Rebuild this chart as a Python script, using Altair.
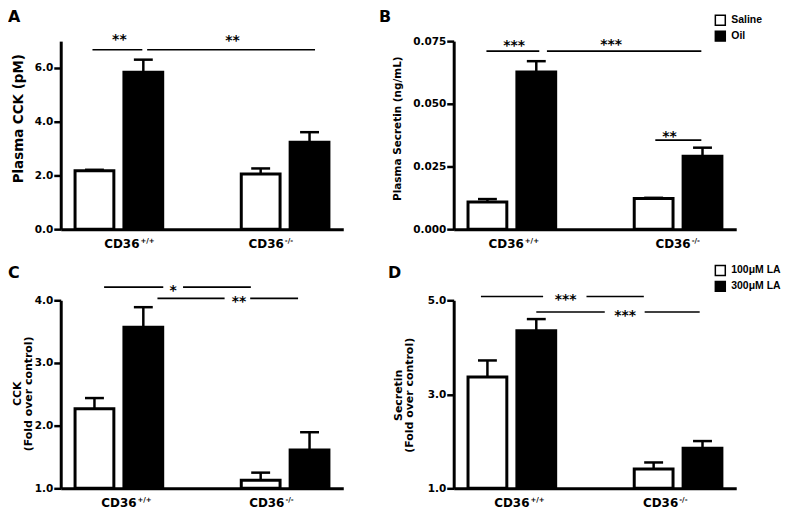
import altair as alt
import pandas as pd

FONT = "DejaVu Sans"

groups = ["CD36+/+", "CD36-/-"]
group_sup = ["+/+", "-/-"]
group_pos = [0.0, 1.0]
bar_offset = [-0.147, 0.147]

# ---- Panel A : Plasma CCK (pM)
a_treat = ["Saline", "Oil"]
a_mean = [2.17, 5.84, 2.05, 3.24]   # WT-Saline, WT-Oil, KO-Saline, KO-Oil
a_err = [0.04, 0.47, 0.21, 0.37]
a_seg_x1 = [-0.159, 0.170]
a_seg_x2 = [0.141, 1.180]
a_seg_y = [6.68, 6.68]
a_star_x = [0.003, 0.684]
a_star_y = [7.16, 7.14]
a_star = ["**", "**"]
a_label_x = [0.058, 0.926]

# ---- Panel B : Plasma Secretin (ng/mL)
b_treat = ["Saline", "Oil"]
b_mean = [0.0108, 0.0627, 0.0122, 0.0291]
b_err = [0.0012, 0.0043, 0.0003, 0.0034]
b_seg_x1 = [-0.153, 0.211, 0.863]
b_seg_x2 = [0.165, 1.140, 1.140]
b_seg_y = [0.0710, 0.0710, 0.0355]
b_star_x = [0.014, 0.597, 0.949]
b_star_y = [0.0746, 0.0749, 0.0384]
b_star = ["***", "***", "**"]
b_label_x = [0.006, 1.01]

# ---- Panel C : CCK fold over control
c_treat = ["100\u03bcM LA", "300\u03bcM LA"]
c_mean = [2.27, 3.57, 1.13, 1.61]
c_err = [0.17, 0.32, 0.12, 0.285]
c_seg_x1 = [-0.089, 0.386, 0.232, 0.790]
c_seg_x2 = [0.267, 0.794, 0.636, 1.078]
c_seg_y = [4.21, 4.21, 4.03, 4.03]
c_star_x = [0.326, 0.723]
c_star_y = [4.21, 4.03]
c_star = ["*", "**"]
c_label_x = [0.04, 0.93]

# ---- Panel D : Secretin fold over control
d_treat = ["100\u03bcM LA", "300\u03bcM LA"]
d_mean = [3.37, 4.35, 1.41, 1.85]
d_err = [0.35, 0.25, 0.14, 0.155]
d_seg_x1 = [-0.186, 0.449, 0.147, 0.799]
d_seg_x2 = [0.188, 0.794, 0.559, 1.130]
d_seg_y = [5.08, 5.08, 4.75, 4.75]
d_star_x = [0.324, 0.682]
d_star_y = [5.08, 4.75]
d_star = ["***", "***"]
d_label_x = [0.04, 0.935]

W = 284
H = 189


def panel(letter, letter_xy, treats, means, errs, ymin, ymax, yticks, yfmt,
          ytitle, ytitle_size, ytitle_xy, seg_x1, seg_x2, seg_y,
          star_x, star_y, star, star_dy, label_x, legend):
    rows = []
    for gi, g in enumerate(groups):
        for ti, t in enumerate(treats):
            k = gi * 2 + ti
            rows.append(dict(group=g, treat=t, x=group_pos[gi] + bar_offset[ti],
                             mean=means[k], top=means[k] + errs[k], base=ymin))
    df = pd.DataFrame(rows)

    xs = alt.Scale(domain=[-0.32, 1.32], nice=False, zero=False)
    ys = alt.Scale(domain=[ymin, ymax], nice=False, zero=False)
    xaxis = alt.Axis(labels=False, ticks=False, title=None, grid=False,
                     domainWidth=3, domainColor="black")
    yaxis = alt.Axis(values=yticks, format=yfmt, title=ytitle, grid=False,
                     domainWidth=3, domainColor="black", tickColor="black",
                     tickWidth=2.5, tickSize=7, labelPadding=1, labelFont=FONT,
                     labelFontWeight="bold", labelFontSize=10.5, labelColor="black",
                     titleFont=FONT, titleFontWeight="bold", titleFontSize=ytitle_size,
                     titleColor="black", titleX=ytitle_xy[0], titleY=ytitle_xy[1],
                     titleBaseline="middle", titleLineHeight=11)

    if legend:
        leg = alt.Legend(orient="none", legendX=legend[0], legendY=legend[1], title=None,
                         symbolType="square", symbolSize=100, symbolStrokeColor="black",
                         symbolStrokeWidth=1.5, labelFont="Liberation Sans",
                         labelFontWeight="bold", labelFontSize=10.5, labelColor="black",
                         rowPadding=0, labelOffset=5)
    else:
        leg = None

    base = alt.Chart(df)
    bars = base.mark_bar(size=39, stroke="black", strokeWidth=3).encode(
        x=alt.X("x:Q", scale=xs, axis=xaxis),
        y=alt.Y("mean:Q", scale=ys, axis=yaxis),
        y2="base:Q",
        fill=alt.Fill("treat:N", scale=alt.Scale(domain=treats, range=["white", "black"]),
                      legend=leg),
    )
    err = base.mark_rule(color="black", strokeWidth=2.5).encode(
        x="x:Q", y="mean:Q", y2="top:Q")
    cap = base.mark_tick(orient="horizontal", size=19, thickness=2.5, color="black",
                         opacity=1).encode(x="x:Q", y="top:Q")

    seg_df = pd.DataFrame(dict(x1=seg_x1, x2=seg_x2, y=seg_y))
    segs = alt.Chart(seg_df).mark_rule(color="black", strokeWidth=1.6).encode(
        x="x1:Q", x2="x2:Q", y="y:Q")
    star_df = pd.DataFrame(dict(x=star_x, y=star_y, t=star))
    stars = alt.Chart(star_df).mark_text(font=FONT, fontWeight="bold", fontSize=14,
                                         baseline="alphabetic", dy=star_dy,
                                         color="black").encode(
        x="x:Q", y="y:Q", text="t:N")

    lab_df = pd.DataFrame(dict(x=label_x, y=[ymin, ymin], main=["CD36", "CD36"], sup=group_sup))
    main = alt.Chart(lab_df).mark_text(font=FONT, fontWeight="bold", fontSize=12,
                                       align="right", baseline="alphabetic", dx=11,
                                       dy=18.5, color="black").encode(
        x="x:Q", y="y:Q", text="main:N")
    sup = alt.Chart(lab_df).mark_text(font=FONT, fontWeight="bold", fontSize=7,
                                      align="left", baseline="alphabetic", dx=12,
                                      dy=13.5, color="black").encode(
        x="x:Q", y="y:Q", text="sup:N")

    let_df = pd.DataFrame(dict(t=[letter]))
    let = alt.Chart(let_df).mark_text(font=FONT, fontWeight="bold", fontSize=16,
                                      align="left", baseline="top", color="black").encode(
        x=alt.value(letter_xy[0]), y=alt.value(letter_xy[1]), text="t:N")

    return alt.layer(bars, err, cap, segs, stars, main, sup, let).properties(
        width=W, height=H)


pA = panel("A", (-53, -32), a_treat, a_mean, a_err, 0, 7, [0, 2, 4, 6], ".1f",
           "Plasma CCK (pM)", 13.5, (-42.5, 77.5), a_seg_x1, a_seg_x2, a_seg_y,
           a_star_x, a_star_y, a_star, 7.7, a_label_x, None)
pB = panel("B", (-75, -32), b_treat, b_mean, b_err, 0, 0.075, [0, 0.025, 0.05, 0.075], ".3f",
           "Plasma Secretin (ng/mL)", 10.5, (-56, 87.5), b_seg_x1, b_seg_x2, b_seg_y,
           b_star_x, b_star_y, b_star, 7.7, b_label_x, (262, -27))
pC = panel("C", (-53, -35), c_treat, c_mean, c_err, 1, 4, [1, 2, 3, 4], ".1f",
           ["CCK", "(Fold over control)"], 11, (-43, 93.5), c_seg_x1, c_seg_x2, c_seg_y,
           c_star_x, c_star_y, c_star, 7.7, c_label_x, None)
pD = panel("D", (-66, -35), d_treat, d_mean, d_err, 1, 5, [1, 3, 5], ".1f",
           ["Secretin", "(Fold over control)"], 11, (-55, 95), d_seg_x1, d_seg_x2, d_seg_y,
           d_star_x, d_star_y, d_star, 7.7, d_label_x, (262, -36))

chart = alt.concat(pA, pB, pC, pD, columns=2, bounds="flush",
                   spacing=alt.RowColnumber(row=71.5, column=111)).resolve_scale(
    fill="independent", x="independent", y="independent").configure_view(
    stroke=None).properties(padding=0, background="white")

chart.save("out.html", embed_options={"renderer": "svg", "actions": False})
